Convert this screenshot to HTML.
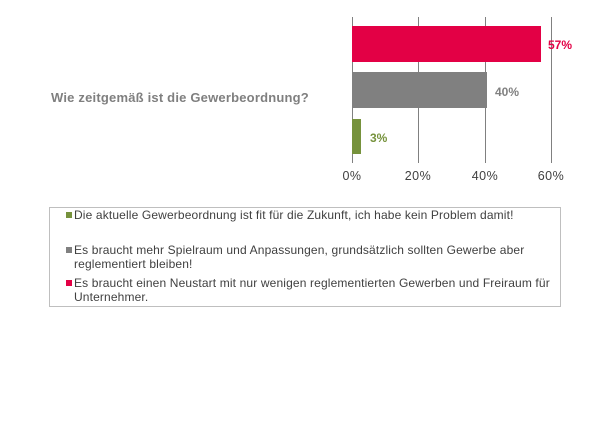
<!DOCTYPE html>
<html><head><meta charset="utf-8"><style>
body{margin:0;background:#fff;width:605px;height:433px;position:relative;overflow:hidden;font-family:"Liberation Sans",sans-serif}
div{position:absolute}
.t{font-size:12px;color:#404040;line-height:14px;letter-spacing:0.14px}
.m{width:6px;height:6px}
</style></head><body>
<svg width="605" height="433" style="position:absolute;left:0;top:0">
<g stroke="#808080" stroke-width="1">
<line x1="352.5" y1="17" x2="352.5" y2="163"/>
<line x1="418.5" y1="17" x2="418.5" y2="163"/>
<line x1="485.5" y1="17" x2="485.5" y2="163"/>
<line x1="551.5" y1="17" x2="551.5" y2="163"/>
</g>
<rect x="352" y="26" width="189" height="36" fill="#e30045"/>
<rect x="352" y="72" width="135" height="36" fill="#808080"/>
<rect x="352" y="119" width="9" height="35" fill="#76923c"/>
<g font-family="Liberation Sans" font-weight="bold" font-size="12">
<text x="548" y="49" fill="#e30045">57%</text>
<text x="495" y="96" fill="#808080">40%</text>
<text x="370" y="142" fill="#76923c">3%</text>
</g>
<g font-family="Liberation Sans" font-size="12.5" fill="#404040" text-anchor="middle" letter-spacing="0.5">
<text x="352" y="180">0%</text><text x="418" y="180">20%</text><text x="485" y="180">40%</text><text x="551" y="180">60%</text>
</g>
<text x="51" y="102" font-family="Liberation Sans" font-weight="bold" font-size="13" fill="#7f7f7f" letter-spacing="0.2">Wie zeitgemäß ist die Gewerbeordnung?</text>
<rect x="49.5" y="207.5" width="511" height="99" fill="none" stroke="#bfbfbf"/>
</svg>
<div class="m" style="left:66px;top:212px;background:#76923c"></div>
<div class="t" style="left:74px;top:208px">Die aktuelle Gewerbeordnung ist fit für die Zukunft, ich habe kein Problem damit!</div>
<div class="m" style="left:66px;top:247px;background:#808080"></div>
<div class="t" style="left:74px;top:243px;width:480px">Es braucht mehr Spielraum und Anpassungen, grundsätzlich sollten Gewerbe aber reglementiert bleiben!</div>
<div class="m" style="left:66px;top:280px;background:#e30045"></div>
<div class="t" style="left:74px;top:276px;width:485px">Es braucht einen Neustart mit nur wenigen reglementierten Gewerben und Freiraum für Unternehmer.</div>
</body></html>
